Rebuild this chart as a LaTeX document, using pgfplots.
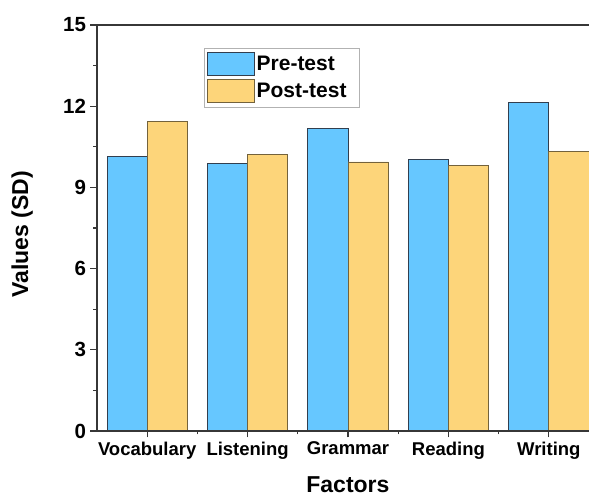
\documentclass[border=0pt]{standalone}
\usepackage{pgfplots}
\pgfplotsset{compat=1.18}
\usepackage{fontspec}
\setmainfont{Liberation Sans}

\definecolor{pre}{RGB}{102,199,255}
\definecolor{post}{RGB}{253,213,122}
\definecolor{preedge}{RGB}{50,62,78}
\definecolor{postedge}{RGB}{115,98,60}
\definecolor{edge}{RGB}{55,55,55}

\begin{document}
\begin{tikzpicture}
\begin{axis}[
  scale only axis,
  width=492pt, height=406pt,
  xmin=-0.5, xmax=4.4,
  ymin=0, ymax=15,
  axis on top,
  axis x line*=box, axis y line*=left,
  axis line style={line width=1.2pt, draw=edge},
  xtick={0,1,2,3,4},
  xticklabels={Vocabulary,Listening,Grammar,Reading,Writing},
  minor xtick={0.5,1.5,2.5,3.5},
  ytick={0,3,6,9,12,15},
  minor ytick={1.5,4.5,7.5,10.5,13.5},
  xtick pos=bottom, ytick pos=left,
  tick align=outside,
  major tick length=6.5pt, minor tick length=3.5pt,
  every tick/.style={line width=1.1pt, draw=edge},
  /pgf/number format/assume math mode=true,
  xticklabel style={font=\fontsize{18.5}{20}\selectfont\bfseries, yshift=-1pt},
  yticklabel style={font=\fontsize{20.5}{22}\selectfont\bfseries, xshift=-1pt},
  xlabel={Factors},
  ylabel={Values (SD)},
  label style={font=\fontsize{23}{26}\selectfont\bfseries},
  xlabel style={at={(axis description cs:0.51,0)}, anchor=north, yshift=-42pt},
  ylabel style={at={(axis description cs:-0.152,0.485)}, anchor=center},
  ybar,
  bar width=0.4,
  legend style={at={(axis description cs:0.2175,0.9433)}, anchor=north west,
    draw=gray!60, line width=0.7pt, font=\fontsize{21}{23}\selectfont\bfseries,
    inner xsep=2.5pt, inner ysep=4pt, row sep=3pt,
    /tikz/every even column/.append style={column sep=4pt}},
  legend image code/.code={\draw[#1, line width=0.8pt] (0pt,-11.5pt) rectangle (47pt,11.5pt);},
  legend cell align=left,
]
\addplot[fill=pre, draw=preedge, line width=0.8pt, bar shift=-0.2]
  coordinates {(0,10.13) (1,9.89) (2,11.19) (3,10.02) (4,12.14)};
\addplot[fill=post, draw=postedge, line width=0.8pt, bar shift=0.2]
  coordinates {(0,11.44) (1,10.22) (2,9.94) (3,9.80) (4,10.34)};
\legend{Pre-test, Post-test\hspace*{8pt}}
\coordinate (sw) at (rel axis cs:0,0);
\coordinate (ne) at (rel axis cs:1,1);
\end{axis}
\pgfresetboundingbox
\path ([shift={(-97pt,-66pt)}]sw) rectangle ([shift={(0pt,25pt)}]ne);
\end{tikzpicture}
\end{document}
